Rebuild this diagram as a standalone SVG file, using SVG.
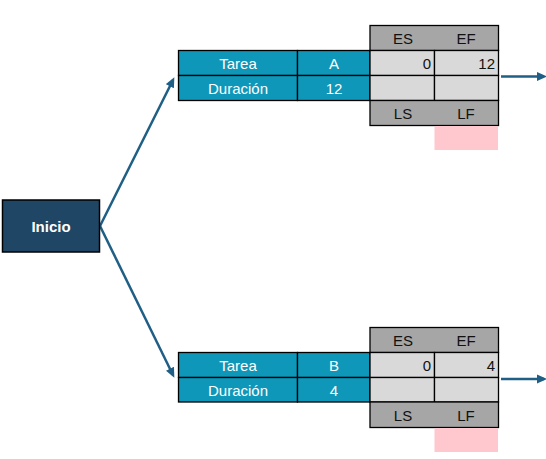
<svg xmlns="http://www.w3.org/2000/svg" width="546" height="459" viewBox="0 0 546 459">
<defs>
<style>
.t{font-family:"Liberation Sans",Arial,sans-serif;font-size:15px;}
.w{fill:#ffffff;}
.k{fill:#111111;}
.teal{fill:#0E97B9;stroke:#000;stroke-width:1.3;}
.hdr{fill:#A6A6A6;stroke:#000;stroke-width:1.3;}
.cell{fill:#D9D9D9;stroke:#000;stroke-width:1.3;}
.pink{fill:#FFC7CE;}
.conn{stroke:#1F5F85;stroke-width:2.5;fill:none;}
</style>
<marker id="ah" markerWidth="10" markerHeight="10" refX="7" refY="5" orient="auto" markerUnits="userSpaceOnUse" viewBox="0 0 10 10">
<path d="M0,0.5 L10,5 L0,9.5 Z" fill="#1F5F85"/>
</marker>
</defs>
<rect width="546" height="459" fill="#ffffff"/>
<g id="connectors">
<line class="conn" x1="100" y1="226" x2="173" y2="80" marker-end="url(#ah)"/>
<line class="conn" x1="100" y1="226" x2="173" y2="375" marker-end="url(#ah)"/>
<line class="conn" x1="501" y1="76.5" x2="544" y2="76.5" marker-end="url(#ah)"/>
<line class="conn" x1="501" y1="379" x2="544" y2="379" marker-end="url(#ah)"/>
</g>
<g id="inicio">
<rect x="2.5" y="200" width="97" height="52" fill="#1F4765" stroke="#000" stroke-width="1.5"/>
<text class="t w" x="51" y="231.5" text-anchor="middle" font-weight="bold">Inicio</text>
</g>
<g id="taskA">
<rect class="teal" x="178.5" y="50.5" width="119" height="25"/>
<rect class="teal" x="297.5" y="50.5" width="72.5" height="25"/>
<rect class="teal" x="178.5" y="75.5" width="119" height="25"/>
<rect class="teal" x="297.5" y="75.5" width="72.5" height="25"/>
<text class="t w" x="238" y="68.5" text-anchor="middle">Tarea</text>
<text class="t w" x="334" y="68.5" text-anchor="middle">A</text>
<text class="t w" x="238" y="93.5" text-anchor="middle">Duración</text>
<text class="t w" x="334" y="93.5" text-anchor="middle">12</text>
<rect class="hdr" x="370" y="25.5" width="128.5" height="25"/>
<rect class="cell" x="370" y="50.5" width="64.5" height="25"/>
<rect class="cell" x="434.5" y="50.5" width="64" height="25"/>
<rect class="cell" x="370" y="75.5" width="64.5" height="25"/>
<rect class="cell" x="434.5" y="75.5" width="64" height="25"/>
<rect class="hdr" x="370" y="100.5" width="128.5" height="25"/>
<rect class="pink" x="434.5" y="126" width="63.5" height="24"/>
<text class="t k" x="403" y="43.5" text-anchor="middle">ES</text>
<text class="t k" x="466" y="43.5" text-anchor="middle">EF</text>
<text class="t k" x="431" y="68.5" text-anchor="end">0</text>
<text class="t k" x="495" y="68.5" text-anchor="end">12</text>
<text class="t k" x="403" y="118.5" text-anchor="middle">LS</text>
<text class="t k" x="466" y="118.5" text-anchor="middle">LF</text>
</g>
<g id="taskB">
<rect class="teal" x="178.5" y="352.5" width="119" height="25"/>
<rect class="teal" x="297.5" y="352.5" width="72.5" height="25"/>
<rect class="teal" x="178.5" y="377.5" width="119" height="24.5"/>
<rect class="teal" x="297.5" y="377.5" width="72.5" height="24.5"/>
<text class="t w" x="238" y="370.5" text-anchor="middle">Tarea</text>
<text class="t w" x="334" y="370.5" text-anchor="middle">B</text>
<text class="t w" x="238" y="395.5" text-anchor="middle">Duración</text>
<text class="t w" x="334" y="395.5" text-anchor="middle">4</text>
<rect class="hdr" x="370" y="327.5" width="128.5" height="25"/>
<rect class="cell" x="370" y="352.5" width="64.5" height="25"/>
<rect class="cell" x="434.5" y="352.5" width="64" height="25"/>
<rect class="cell" x="370" y="377.5" width="64.5" height="24.5"/>
<rect class="cell" x="434.5" y="377.5" width="64" height="24.5"/>
<rect class="hdr" x="370" y="402" width="128.5" height="25.5"/>
<rect class="pink" x="434.5" y="428" width="63.5" height="24"/>
<text class="t k" x="403" y="345.5" text-anchor="middle">ES</text>
<text class="t k" x="466" y="345.5" text-anchor="middle">EF</text>
<text class="t k" x="431" y="370.5" text-anchor="end">0</text>
<text class="t k" x="495" y="370.5" text-anchor="end">4</text>
<text class="t k" x="403" y="420.5" text-anchor="middle">LS</text>
<text class="t k" x="466" y="420.5" text-anchor="middle">LF</text>
</g>
</svg>
